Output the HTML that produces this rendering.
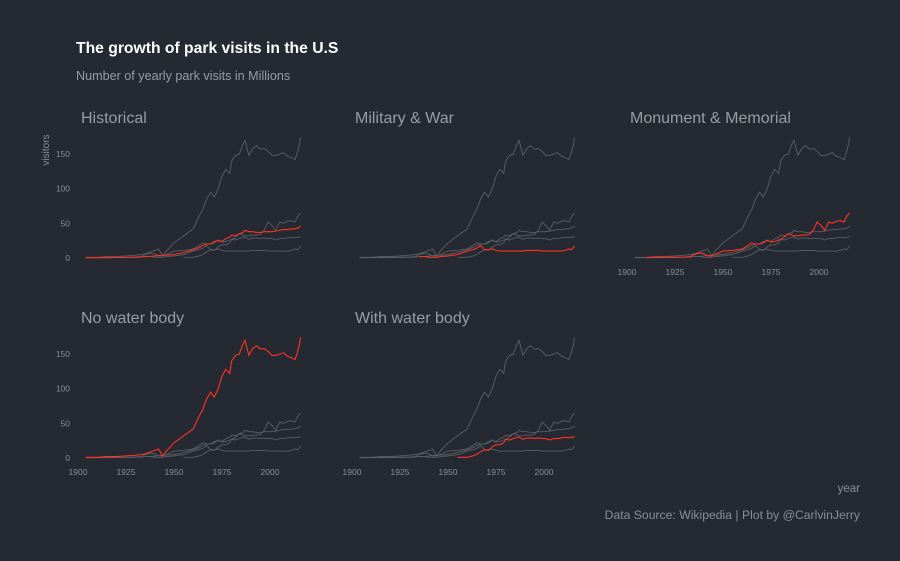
<!DOCTYPE html>
<html><head><meta charset="utf-8"><style>
html,body{margin:0;padding:0;background:#252932;}
svg{display:block;font-family:"Liberation Sans",sans-serif;}
</style></head><body>
<svg id="chart" width="900" height="561">
<rect width="900" height="561" fill="#252932"/>
<text x="76" y="53" fill="#ffffff" font-size="15.7" font-weight="bold">The growth of park visits in the U.S</text>
<text x="76" y="80" fill="#9a9ca3" font-size="12.6">Number of yearly park visits in Millions</text>
<text transform="translate(49,150) rotate(-90)" fill="#8a8d94" font-size="10" text-anchor="middle">visitors</text>
<text x="860" y="492" fill="#8a8d94" font-size="11.5" text-anchor="end">year</text>
<text x="860" y="519" fill="#8a8d94" font-size="12.2" text-anchor="end">Data Source: Wikipedia | Plot by @CarlvinJerry</text>
<g id="panels"></g>
</svg>
<script>
const years=[1904,1910,1915,1920,1925,1930,1933,1935,1938,1940,1942,1944,1946,1950,1955,1960,1963,1965,1967,1969,1971,1973,1975,1977,1979,1980,1982,1984,1986,1987,1989,1991,1993,1995,1997,1999,2001,2003,2005,2007,2009,2011,2013,2014,2015,2016];
const categories=["Historical","Military & War","Monument & Memorial","No water body","With water body"];
const historical=[0.3,0.5,0.5,0.7,0.8,1,1.5,2,2.5,3,3.5,4,4,5,8,12,15,18,20,20,24,25,24,28,30,33,32,35,37,40,38,38,37,37,38,38,38,39,40,41,41,42,42,43,44,46];
const military=[null,null,null,null,null,null,null,2,2,1,1,1,2,3,5,10,12,14,18,12,12,13,11,10,10,10,10,10,10,10,10,11,11,11,11,10,10,10,10,10,10,11,13,12,14,17];
const monument=[null,0.5,1,1,1,1.5,2,5,7,6,3,3,5,10,11,13,18,22,20,20,22,26,23,24,26,27,30,35,33,32,32,33,33,34,40,52,47,40,52,50,53,54,52,58,62,65];
const noWater=[1,1,2,2,3,4,5,6,9,11,13,3,10,22,32,42,60,70,85,95,88,100,118,128,122,140,148,150,165,170,148,158,162,157,158,154,148,148,150,152,147,145,142,150,160,174];
const withWater=[null,null,null,null,null,null,null,null,null,null,null,null,null,null,1,1,3,5,9,12,11,16,19,19,22,27,26,28,30,30,27,29,29,28,29,28,28,26,28,28,29,30,29,30,30,31];
const series=[historical,military,monument,noWater,withWater];
const yTicks=[0,50,100,150];
const xTicks=[1900,1925,1950,1975,2000];

const NS="http://www.w3.org/2000/svg";
const g=document.getElementById('panels');
function mk(t,a,p){const e=document.createElementNS(NS,t);for(const k in a)e.setAttribute(k,a[k]);(p||g).appendChild(e);return e;}
const ox=[78,352,627],oy=[258,458];
function xs(col,yr){return ox[col]+(yr-1900)*1.92;}
function ys(row,v){return oy[row]-v*0.693;}
function pathFor(col,row,arr){let d="",pen=false;arr.forEach((v,i)=>{if(v==null){pen=false;return;}d+=(pen?"L":"M")+xs(col,years[i]).toFixed(1)+","+ys(row,v).toFixed(1);pen=true;});return d;}
categories.forEach((c,p)=>{
  const col=p%3,row=Math.floor(p/3);
  const pg=mk('g',{});
  
  
  const t=mk('text',{x:ox[col]+3,y:oy[row]-135,fill:'#9a9ca3','font-size':16},pg);
  t.textContent=c;
  
  
  series.forEach((s,i)=>{if(i===p)return;
    const l=mk('path',{d:pathFor(col,row,s),fill:'none',stroke:'#5b5e66','stroke-width':0.9},pg);
    
    
  });
  const r=mk('path',{d:pathFor(col,row,series[p]),fill:'none',stroke:'#ff3322','stroke-width':1.1},pg);
  
  
  if(col===0){yTicks.forEach(v=>{const tt=mk('text',{x:ox[col]-8,y:ys(row,v)+3,fill:'#8a8d94','font-size':8.5,'text-anchor':'end'},pg);tt.textContent=v;
    
    });}
  if(row===1||col===2){xTicks.forEach(v=>{const tt=mk('text',{x:xs(col,v),y:oy[row]+17,fill:'#8a8d94','font-size':8.5,'text-anchor':'middle'},pg);tt.textContent=v;
    
    });}
});
</script>
</body></html>
